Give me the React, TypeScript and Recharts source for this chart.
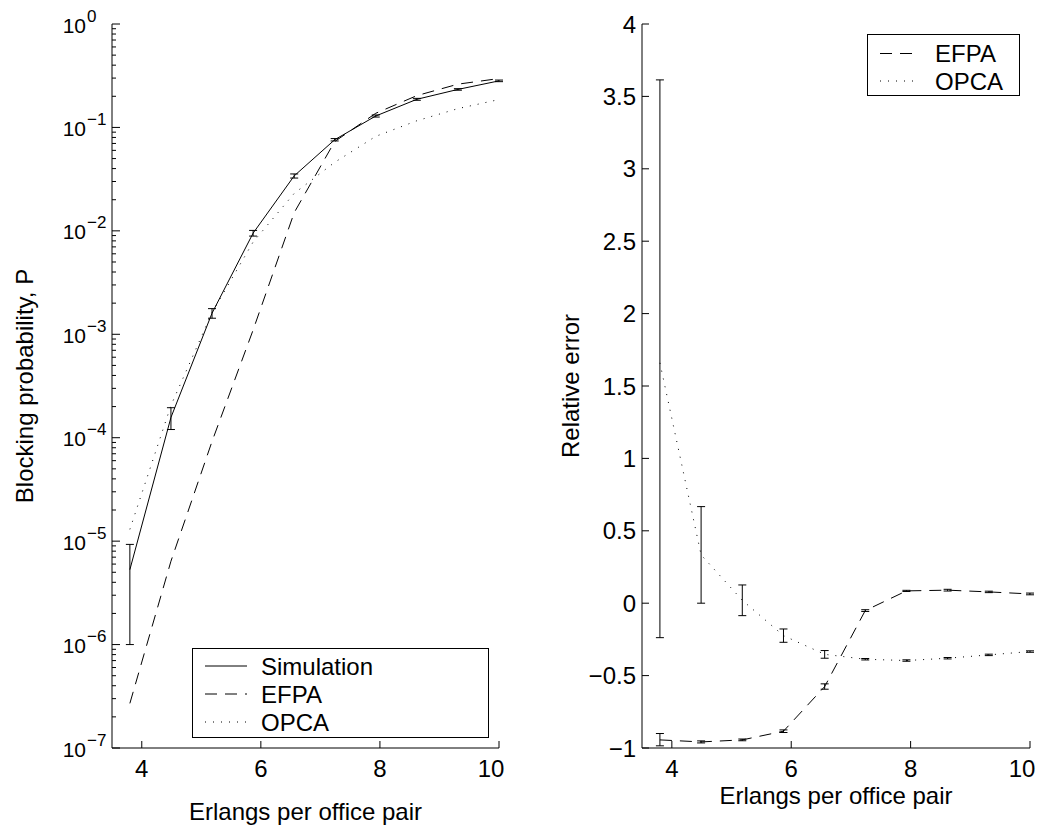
import { LineChart, Line, XAxis, YAxis, ErrorBar, Legend } from 'recharts'

// offered load (x) shared by both panels
const erlangs = [3.8, 4.49, 5.18, 5.87, 6.56, 7.24, 7.93, 8.62, 9.31, 10]

// left panel: blocking probability
const simulation = [5.3e-6, 1.57e-4, 1.6e-3, 9.5e-3, 3.4e-2, 7.6e-2, 0.129, 0.187, 0.233, 0.282]
const simLow = [1.0e-6, 1.2e-4, 1.43e-3, 8.9e-3, 3.24e-2, 7.4e-2, 0.126, 0.183, 0.229, 0.277]
const simHigh = [9.3e-6, 1.95e-4, 1.77e-3, 1.01e-2, 3.55e-2, 7.8e-2, 0.132, 0.191, 0.237, 0.287]
const efpaBlocking = [2.7e-7, 6.4e-6, 9.2e-5, 1.1e-3, 1.5e-2, 7.3e-2, 0.137, 0.203, 0.262, 0.297]
const opcaBlocking = [1.3e-5, 2.05e-4, 1.62e-3, 7.8e-3, 2.3e-2, 4.6e-2, 0.082, 0.116, 0.152, 0.186]

// right panel: relative error
const efpaRel = [-0.944, -0.958, -0.944, -0.884, -0.576, -0.051, 0.085, 0.09, 0.078, 0.064]
const efpaRelLow = [-0.985, -0.965, -0.95, -0.893, -0.594, -0.057, 0.081, 0.084, 0.073, 0.058]
const efpaRelHigh = [-0.9, -0.951, -0.938, -0.875, -0.557, -0.045, 0.089, 0.096, 0.083, 0.07]
const opcaRel = [1.66, 0.334, 0.02, -0.224, -0.353, -0.387, -0.396, -0.38, -0.357, -0.334]
const opcaRelLow = [-0.238, 0, -0.086, -0.27, -0.38, -0.392, -0.401, -0.385, -0.362, -0.339]
const opcaRelHigh = [3.614, 0.667, 0.126, -0.178, -0.327, -0.382, -0.391, -0.375, -0.352, -0.329]

// axes
const xTicks = [4, 6, 8, 10]
const decades = [-7, -6, -5, -4, -3, -2, -1, 0]
const minorSteps = [2, 3, 4, 5, 6, 7, 8, 9]
const relTicks = [-1, -0.5, 0, 0.5, 1, 1.5, 2, 2.5, 3, 3.5, 4]

const FONT = '"Liberation Sans", Arial, Helvetica, sans-serif'
const DASH = '12 8'
const DOT = '1 7'

const logTicks: number[] = []
decades.forEach((d) => {
  logTicks.push(Math.pow(10, d))
  if (d < 0) minorSteps.forEach((m) => logTicks.push(m * Math.pow(10, d)))
})

const leftData = erlangs.map((x, i) => ({
  x,
  sim: simulation[i],
  simErr: [simulation[i] - simLow[i], simHigh[i] - simulation[i]],
  efpa: efpaBlocking[i],
  opca: opcaBlocking[i],
}))

const rightData = erlangs.map((x, i) => ({
  x,
  efpa: efpaRel[i],
  efpaErr: [efpaRel[i] - efpaRelLow[i], efpaRelHigh[i] - efpaRel[i]],
  opca: opcaRel[i],
  opcaErr: [opcaRel[i] - opcaRelLow[i], opcaRelHigh[i] - opcaRel[i]],
}))

const minus = (s: string) => s.replace('-', '\u2212')

function LogTick(props: any) {
  const { x, y, payload } = props
  const lg = Math.log10(payload.value)
  const e = Math.round(lg)
  const major = Math.abs(lg - e) < 1e-9
  return (
    <g>
      <line x1={x} x2={x + (major ? 8 : 4)} y1={y} y2={y} stroke="#000" />
      {major && (
        <text x={x - 26} y={y + 1} textAnchor="end" dominantBaseline="central" fontSize={21} fontFamily={FONT} fill="#000">
          10
        </text>
      )}
      {major && (
        <text x={x - 25} y={y - 8} dominantBaseline="central" fontSize={17} fontFamily={FONT} fill="#000">
          {minus(String(e))}
        </text>
      )}
    </g>
  )
}

function RelTick(props: any) {
  const { x, y, payload } = props
  return (
    <g>
      <line x1={x} x2={x + 7} y1={y} y2={y} stroke="#000" />
      <text x={x - 6} y={y} textAnchor="end" dominantBaseline="central" fontSize={24} fontFamily={FONT} fill="#000">
        {minus(String(payload.value))}
      </text>
    </g>
  )
}

function XTick(props: any) {
  const { x, y, payload } = props
  // the last label is pulled inside the axis end, as in the original figure
  const last = payload.value === xTicks[xTicks.length - 1]
  return (
    <g>
      <line x1={x} x2={x} y1={y} y2={y - 7} stroke="#000" />
      <text x={last ? x - 8 : x} y={y + 20} textAnchor="middle" dominantBaseline="central" fontSize={24} fontFamily={FONT} fill="#000">
        {payload.value}
      </text>
    </g>
  )
}

function yTitle(text: string, cx: number) {
  return (props: any) => {
    const vb = props.viewBox
    const cy = vb.y + vb.height / 2
    return (
      <text x={cx} y={cy} transform={`rotate(-90, ${cx}, ${cy})`} textAnchor="middle" dominantBaseline="central" fontSize={24} fontFamily={FONT} fill="#000">
        {text}
      </text>
    )
  }
}

function xTitle(text: string, dy: number) {
  return (props: any) => {
    const vb = props.viewBox
    return (
      <text x={vb.x + vb.width / 2} y={vb.y + dy} textAnchor="middle" dominantBaseline="central" fontSize={24} fontFamily={FONT} fill="#000">
        {text}
      </text>
    )
  }
}

type Item = { name: string; dash?: string }

function LegendBox({ items, width, height, first, gap, lineEnd, textX }: {
  items: Item[]; width: number; height: number; first: number; gap: number; lineEnd: number; textX: number
}) {
  return (
    <svg width={width} height={height} style={{ display: 'block' }}>
      <rect x={0.5} y={0.5} width={width - 1} height={height - 1} fill="#fff" stroke="#000" />
      {items.map((it, i) => {
        const cy = first + i * gap
        return (
          <g key={it.name}>
            <line x1={13} x2={lineEnd} y1={cy} y2={cy} stroke="#000" strokeDasharray={it.dash} />
            <text x={textX} y={cy} dominantBaseline="central" fontSize={24} fontFamily={FONT} fill="#000">
              {it.name}
            </text>
          </g>
        )
      })}
    </svg>
  )
}

export default function App() {
  return (
    <div style={{ position: 'absolute', left: 0, top: 0, width: 1039, height: 827, overflow: 'hidden', background: '#fff' }}>
      <div style={{ position: 'absolute', left: 0, top: 0 }}>
        <LineChart width={520} height={827} data={leftData} margin={{ top: 24, right: 21, left: 0, bottom: 0 }} style={{ fontFamily: FONT }}>
          <XAxis
            type="number"
            dataKey="x"
            domain={[3.5, 10]}
            ticks={xTicks}
            allowDataOverflow
            height={79}
            tickSize={0}
            tickMargin={0}
            tick={<XTick />}
            axisLine={{ stroke: '#000' }}
            label={xTitle('Erlangs per office pair', 63)}
          />
          <YAxis
            scale="log"
            domain={[1e-7, 1]}
            ticks={logTicks}
            interval={0}
            allowDataOverflow
            width={112}
            tickSize={0}
            tickMargin={0}
            tick={<LogTick />}
            axisLine={{ stroke: '#000' }}
            label={yTitle('Blocking probability, P', 24)}
          />
          <Line type="linear" dataKey="sim" stroke="#000" strokeWidth={1} dot={false} isAnimationActive={false}>
            <ErrorBar dataKey="simErr" width={4} stroke="#000" strokeWidth={1} isAnimationActive={false} />
          </Line>
          <Line type="linear" dataKey="efpa" stroke="#000" strokeWidth={1} strokeDasharray={DASH} dot={false} isAnimationActive={false} />
          <Line type="linear" dataKey="opca" stroke="#000" strokeWidth={1} strokeDasharray={DOT} dot={false} isAnimationActive={false} />
          <Legend
            layout="vertical"
            align="center"
            verticalAlign="middle"
            wrapperStyle={{ left: 192, top: 648, width: 297, height: 90 }}
            content={() => (
              <LegendBox
                items={[{ name: 'Simulation' }, { name: 'EFPA', dash: DASH }, { name: 'OPCA', dash: DOT }]}
                width={297}
                height={90}
                first={18}
                gap={28}
                lineEnd={55}
                textX={69}
              />
            )}
          />
        </LineChart>
      </div>
      <div style={{ position: 'absolute', left: 530, top: 0 }}>
        <LineChart width={509} height={827} data={rightData} margin={{ top: 24, right: 9, left: 0, bottom: 0 }} style={{ fontFamily: FONT }}>
          <XAxis
            type="number"
            dataKey="x"
            domain={[3.5, 10]}
            ticks={xTicks}
            allowDataOverflow
            height={79}
            tickSize={0}
            tickMargin={0}
            tick={<XTick />}
            axisLine={{ stroke: '#000' }}
            label={xTitle('Erlangs per office pair', 47)}
          />
          <YAxis
            type="number"
            domain={[-1, 4]}
            ticks={relTicks}
            interval={0}
            allowDataOverflow
            width={112}
            tickSize={0}
            tickMargin={0}
            tick={<RelTick />}
            axisLine={{ stroke: '#000' }}
            label={yTitle('Relative error', 40.5)}
          />
          <Line type="linear" dataKey="efpa" stroke="#000" strokeWidth={1} strokeDasharray={DASH} dot={false} isAnimationActive={false}>
            <ErrorBar dataKey="efpaErr" width={4} stroke="#000" strokeWidth={1} isAnimationActive={false} />
          </Line>
          <Line type="linear" dataKey="opca" stroke="#000" strokeWidth={1} strokeDasharray={DOT} dot={false} isAnimationActive={false}>
            <ErrorBar dataKey="opcaErr" width={4} stroke="#000" strokeWidth={1} isAnimationActive={false} />
          </Line>
          <Legend
            layout="vertical"
            align="center"
            verticalAlign="middle"
            wrapperStyle={{ left: 337, top: 34, width: 153, height: 62 }}
            content={() => (
              <LegendBox
                items={[{ name: 'EFPA', dash: DASH }, { name: 'OPCA', dash: DOT }]}
                width={153}
                height={62}
                first={19.5}
                gap={27.5}
                lineEnd={51}
                textX={68}
              />
            )}
          />
        </LineChart>
      </div>
    </div>
  )
}
